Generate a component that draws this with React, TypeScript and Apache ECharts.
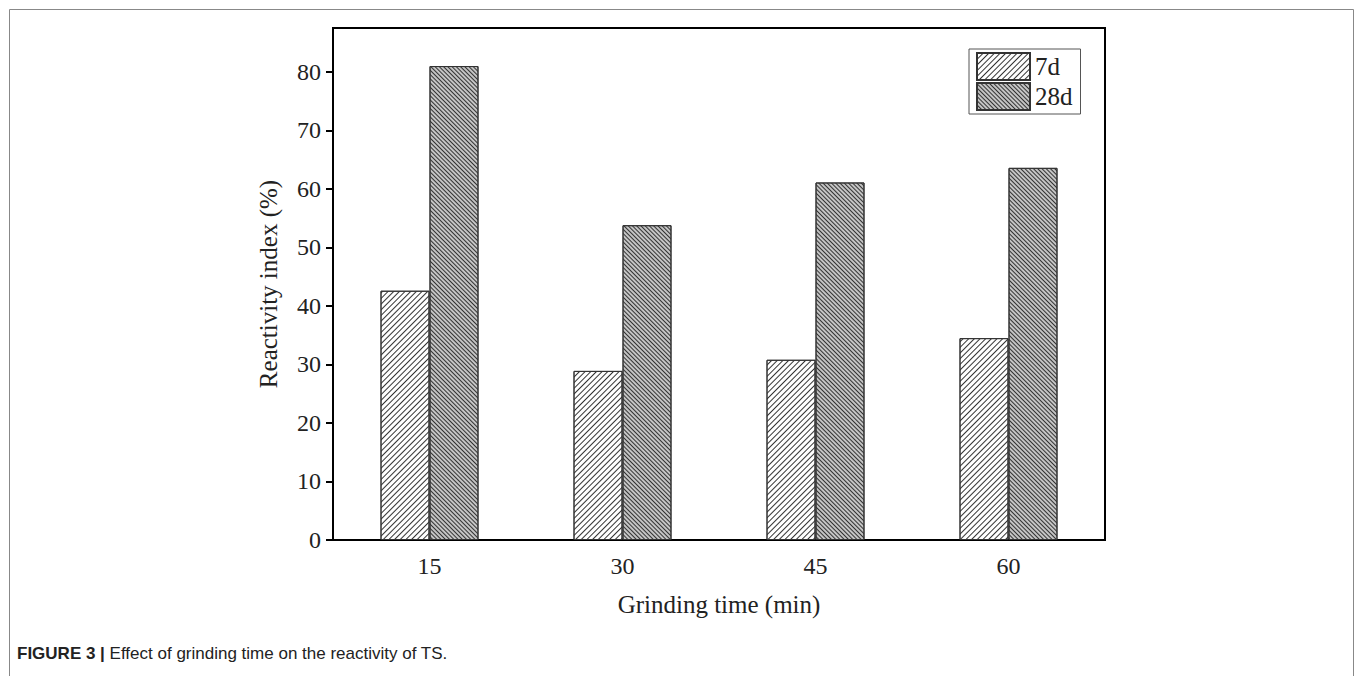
import React, { useEffect, useRef } from "react";
import * as echarts from "echarts";

const categories = ["15", "30", "45", "60"];
const series7d = [42.6, 28.9, 30.8, 34.5];
const series28d = [81.0, 53.8, 61.1, 63.6];
const yTicks = [0, 10, 20, 30, 40, 50, 60, 70, 80];
const xAxisName = "Grinding time (min)";
const yAxisName = "Reactivity index (%)";
const captionBold = "FIGURE 3 |";
const captionText = " Effect of grinding time on the reactivity of TS.";

const SERIF = "'Liberation Serif', 'DejaVu Serif', serif";
const SANS = "'Liberation Sans', Arial, sans-serif";

export default function App() {
  const ref = useRef<HTMLDivElement>(null);
  useEffect(() => {
    if (!ref.current) return;
    const chart = echarts.init(ref.current, null, { renderer: "svg" });
    chart.setOption({
      animation: false,
      backgroundColor: "#fff",
      grid: {
        left: 333,
        right: 250,
        top: 28,
        bottom: 136,
        show: true,
        borderColor: "#000",
        borderWidth: 2,
        backgroundColor: "transparent",
      },
      legend: {
        data: ["7d", "28d"],
        orient: "vertical",
        icon: "rect",
        left: 969,
        top: 49,
        itemWidth: 53,
        itemHeight: 27,
        itemGap: 1,
        padding: [3, 8, 3, 7],
        borderColor: "#555",
        borderWidth: 1,
        textStyle: { fontFamily: SERIF, fontSize: 25, color: "#222" },
      },
      xAxis: {
        type: "category",
        data: categories,
        name: xAxisName,
        nameLocation: "middle",
        nameGap: 52,
        nameTextStyle: { fontFamily: SERIF, fontSize: 25, color: "#222" },
        axisLine: { lineStyle: { color: "#000", width: 2 } },
        axisTick: { alignWithLabel: true, length: 7, lineStyle: { color: "#000", width: 2 } },
        axisLabel: { fontFamily: SERIF, fontSize: 24, color: "#222", margin: 14 },
        splitLine: { show: false },
      },
      yAxis: {
        type: "value",
        min: 0,
        max: 87.5,
        interval: 10,
        name: yAxisName,
        nameLocation: "middle",
        nameGap: 52,
        nameTextStyle: { fontFamily: SERIF, fontSize: 25, color: "#222" },
        axisLine: { show: true, lineStyle: { color: "#000", width: 2 } },
        axisTick: { show: true, length: 7, customValues: yTicks, lineStyle: { color: "#000", width: 2 } },
        axisLabel: { fontFamily: SERIF, fontSize: 24, color: "#222", margin: 12, customValues: yTicks },
        splitLine: { show: false },
      },
      series: [
        {
          name: "7d",
          type: "bar",
          data: series7d,
          barWidth: 49,
          barGap: "0%",
          itemStyle: {
            color: "#fff",
            borderColor: "#333",
            borderWidth: 1,
            decal: {
              symbol: "rect",
              symbolSize: 1,
              dashArrayX: [1, 0],
              dashArrayY: [1, 3],
              rotation: -Math.PI / 4,
              color: "#333",
            },
          },
        },
        {
          name: "28d",
          type: "bar",
          data: series28d,
          barWidth: 49,
          barGap: "0%",
          itemStyle: {
            color: "#c4c4c4",
            borderColor: "#333",
            borderWidth: 1,
            decal: {
              symbol: "rect",
              symbolSize: 1,
              dashArrayX: [1, 0],
              dashArrayY: [1, 2],
              rotation: Math.PI / 4,
              color: "#333",
            },
          },
        },
      ],
      graphic: [
        {
          type: "rect",
          shape: { x: 9.5, y: 9.5, width: 1344, height: 720 },
          style: { fill: "none", stroke: "#888", lineWidth: 1 },
          silent: true,
        },
        {
          type: "text",
          left: 17,
          top: 645,
          style: {
            text: "{b|" + captionBold + "}" + captionText,
            fill: "#222",
            font: "17px " + SANS,
            rich: {
              b: { fontWeight: "bold", fontFamily: SANS, fontSize: 17, fill: "#222" },
            },
          },
        },
      ],
    });
    return () => chart.dispose();
  }, []);
  return (
    <div
      ref={ref}
      style={{ position: "fixed", left: 0, top: 0, width: 1355, height: 676 }}
    />
  );
}
